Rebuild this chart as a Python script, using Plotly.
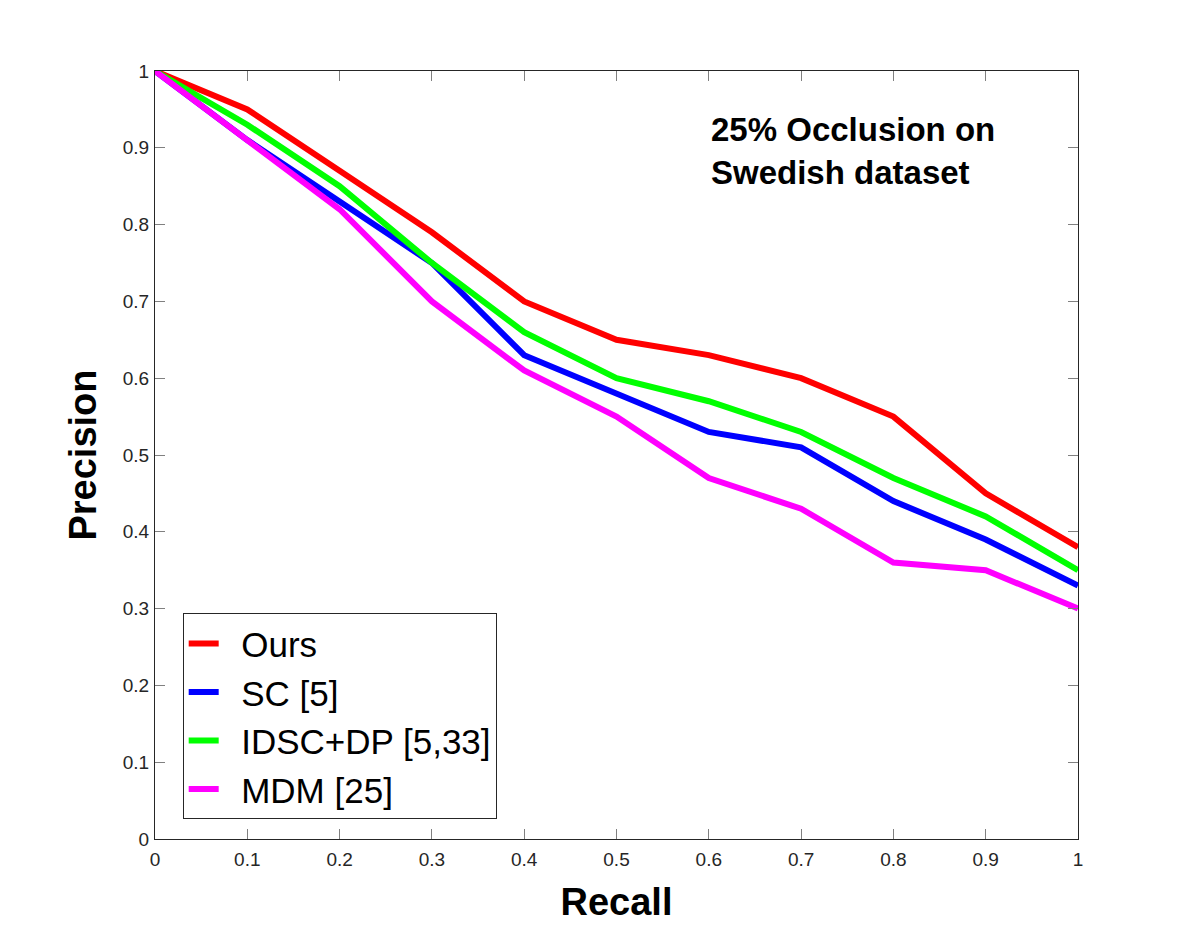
import plotly.graph_objects as go

recall = [0, 0.1, 0.2, 0.3, 0.4, 0.5, 0.6, 0.7, 0.8, 0.9, 1.0]
ours = [1.0, 0.95, 0.87, 0.79, 0.70, 0.65, 0.63, 0.60, 0.55, 0.45, 0.38]
sc = [1.0, 0.91, 0.83, 0.75, 0.63, 0.58, 0.53, 0.51, 0.44, 0.39, 0.33]
idsc = [1.0, 0.93, 0.85, 0.75, 0.66, 0.60, 0.57, 0.53, 0.47, 0.42, 0.35]
mdm = [1.0, 0.91, 0.82, 0.70, 0.61, 0.55, 0.47, 0.43, 0.36, 0.35, 0.30]

series = [("Ours", ours, "#ff0000"), ("SC [5]", sc, "#0000ff"),
          ("IDSC+DP [5,33]", idsc, "#00ff00"), ("MDM [25]", mdm, "#ff00ff")]
ticks = [0, 0.1, 0.2, 0.3, 0.4, 0.5, 0.6, 0.7, 0.8, 0.9, 1]
ticktext = ["0", "0.1", "0.2", "0.3", "0.4", "0.5", "0.6", "0.7", "0.8", "0.9", "1"]

fig = go.Figure()
for i, (name, vals, col) in enumerate(series):
    fig.add_trace(go.Scatter(x=recall, y=vals, mode="lines", name="\u2002" + name,
                             legendgroup=f"g{i}",
                             line=dict(color=col, width=6)))

axis_common = dict(showline=True, linecolor="#262626", linewidth=1, mirror="ticks",
                   ticks="inside", ticklen=10, tickcolor="#808080", showgrid=False,
                   zeroline=False, tickfont=dict(family="Liberation Sans", size=19, color="#262626"))

fig.update_layout(
    width=1192, height=942,
    margin=dict(l=155, r=114, t=71, b=103),
    paper_bgcolor="white", plot_bgcolor="white",
    font=dict(family="Liberation Sans"),
    xaxis=dict(range=[0, 1], tickvals=ticks, ticktext=ticktext, ticklabelstandoff=3,
               title=dict(text="<b>Recall</b>", font=dict(size=38, color="black"), standoff=19),
               **axis_common),
    yaxis=dict(range=[0, 1], tickvals=ticks, ticktext=ticktext, ticklabelstandoff=1,
               title=dict(text="<b>Precision</b>", font=dict(size=38, color="black"), standoff=14),
               **axis_common),
    legend=dict(x=0.030, y=0.294, xanchor="left", yanchor="top",
                bordercolor="#262626", borderwidth=1, bgcolor="white",
                font=dict(family="Liberation Sans", size=35, color="black"),
                tracegroupgap=0, itemwidth=30),
    showlegend=True,
)
fig.add_annotation(xref="paper", yref="paper", x=0.600, y=0.950, xanchor="left", yanchor="top",
                   text="<b>25% Occlusion on<br>Swedish dataset</b>", showarrow=False, align="left",
                   font=dict(family="Liberation Sans", size=33, color="black"))

fig.write_html("out.html")
